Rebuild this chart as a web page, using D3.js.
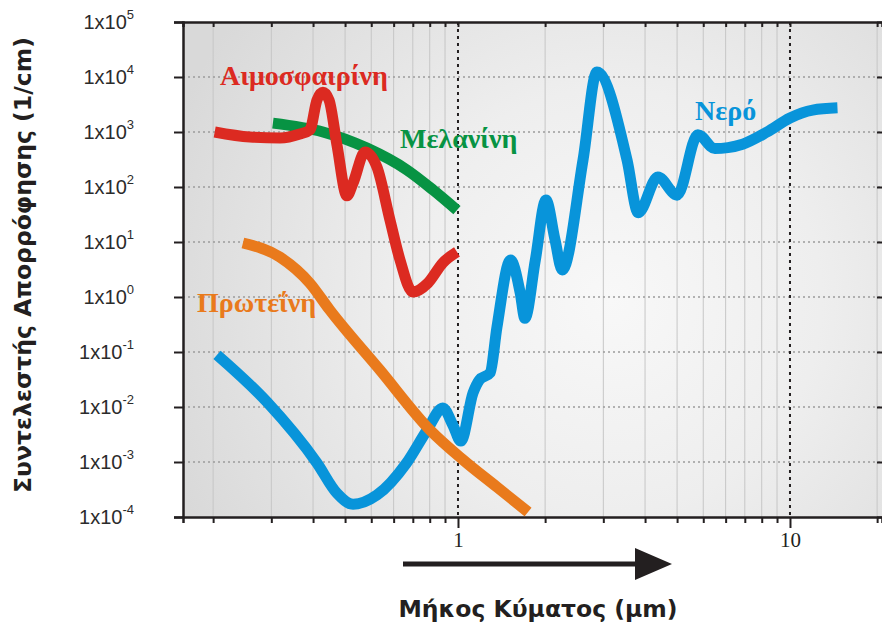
<!DOCTYPE html>
<html><head><meta charset="utf-8">
<script src="https://cdn.jsdelivr.net/npm/d3@7"></script>
<style>body{margin:0;background:#fff}svg{display:block}</style>
</head><body><svg id="chart" width="882" height="627"></svg>
<script>
// ---------------- DATA ----------------
const yTickValues = [1e-4, 1e-3, 1e-2, 1e-1, 1e0, 1e1, 1e2, 1e3, 1e4, 1e5];
const yTickExponents = ["-4", "-3", "-2", "-1", "0", "1", "2", "3", "4", "5"];
const xMajorTicks = [1, 10];
const xMajorLabels = ["1", "10"];
const xMinorGrid = [0.183, 0.274, 0.366, 0.457, 0.548, 0.640, 0.731, 0.822, 0.914,
                    1.83, 2.74, 3.66, 4.57, 5.48, 6.40, 7.31, 8.22, 9.14, 18.3];

const seriesNames = ["Νερό", "Μελανίνη", "Αιμοσφαιρίνη", "Πρωτεΐνη"];

const waterWl  = [0.188, 0.266, 0.376, 0.432, 0.483, 0.57, 0.70, 0.807, 0.90, 0.965, 1.02, 1.11, 1.16, 1.25, 1.31, 1.44, 1.54, 1.59, 1.71, 1.84, 1.96, 2.06, 2.38, 2.62, 3.23, 3.49, 4.0, 4.57, 5.28, 5.94, 6.5, 7.2, 8.53, 10, 11.7, 13.9];
const waterAbs = [0.089, 0.0123, 0.00096, 0.00027, 0.00017, 0.00025, 0.00096, 0.0038, 0.0096, 0.0047, 0.0024, 0.018, 0.031, 0.042, 0.28, 4.7, 1.18, 0.41, 4.7, 58, 11, 3.1, 310, 12300, 310, 34, 152, 71, 890, 500, 520, 600, 1000, 1800, 2500, 2750];

const melaninWl  = [0.277, 0.392, 0.532, 0.702, 0.84, 0.993];
const melaninAbs = [1450, 1000, 510, 204, 89, 38];

const hemoWl  = [0.185, 0.236, 0.291, 0.334, 0.358, 0.376, 0.392, 0.409, 0.432, 0.463, 0.483, 0.525, 0.570, 0.624, 0.669, 0.731, 0.812, 0.901, 0.993];
const hemoAbs = [1000, 810, 780, 920, 1090, 3800, 5300, 3800, 580, 69, 118, 435, 230, 25, 4.7, 1.23, 1.8, 4.2, 6.6];

const proteinWl  = [0.225, 0.291, 0.358, 0.411, 0.582, 0.824, 1.035, 1.31, 1.626];
const proteinAbs = [9.6, 5.3, 1.78, 0.58, 0.047, 0.0038, 0.0011, 0.00035, 0.000123];

const seriesColors = ["#0894da", "#079343", "#dc2a21", "#e97a1c"];

// ---------------- LAYOUT ----------------
const plot = {left: 183, top: 22, right: 882, bottom: 517};
const ink = "#231f20";

const svg = d3.select("#chart");

const x = d3.scaleLog().domain([0.1485, 18.93]).range([plot.left, plot.right]);
const y = d3.scaleLog().domain([1e-4, 1e5]).range([plot.bottom, plot.top]);

// background gradient
const defs = svg.append("defs");
const grad = defs.append("radialGradient").attr("id", "bg")
  .attr("gradientUnits", "userSpaceOnUse")
  .attr("cx", 610).attr("cy", 300).attr("r", 470);
grad.append("stop").attr("offset", "0").attr("stop-color", "#f8f8f8");
grad.append("stop").attr("offset", "0.45").attr("stop-color", "#eeeeee");
grad.append("stop").attr("offset", "1").attr("stop-color", "#d9d9d9");

svg.append("rect").attr("x", plot.left).attr("y", plot.top)
  .attr("width", plot.right - plot.left).attr("height", plot.bottom - plot.top)
  .attr("fill", "url(#bg)");

// minor vertical grid
svg.append("g").selectAll("line").data(xMinorGrid).join("line")
  .attr("x1", d => x(d)).attr("x2", d => x(d))
  .attr("y1", plot.top).attr("y2", plot.bottom)
  .attr("stroke", "#c6c6c6").attr("stroke-width", 1);

// horizontal dotted grid
svg.append("g").selectAll("line").data(yTickValues.slice(1, -1)).join("line")
  .attr("x1", plot.left).attr("x2", plot.right)
  .attr("y1", d => y(d)).attr("y2", d => y(d))
  .attr("stroke", "#9c9c9c").attr("stroke-width", 1.3).attr("stroke-dasharray", "2,3");

// major dotted verticals
svg.append("g").selectAll("line").data(xMajorTicks).join("line")
  .attr("x1", d => x(d)).attr("x2", d => x(d))
  .attr("y1", plot.top).attr("y2", plot.bottom)
  .attr("stroke", ink).attr("stroke-width", 2).attr("stroke-dasharray", "3,4");

// axes (D3 axes)
const yAxis = d3.axisLeft(y).tickValues(yTickValues).tickSize(9).tickFormat("");
svg.append("g").attr("transform", `translate(${plot.left},0)`).call(yAxis)
  .call(g => g.select(".domain").attr("stroke", ink).attr("stroke-width", 2.5))
  .call(g => g.selectAll(".tick line").attr("stroke", ink).attr("stroke-width", 2));

const yAxisR = d3.axisLeft(y).tickValues(yTickValues).tickSize(5).tickFormat("");
svg.append("g").attr("transform", `translate(${plot.right},0)`).call(yAxisR)
  .call(g => g.select(".domain").remove())
  .call(g => g.selectAll(".tick line").attr("stroke", ink).attr("stroke-width", 2));

const xAxisBottomMinor = d3.axisBottom(x).tickValues(xMinorGrid).tickSize(6).tickFormat("");
svg.append("g").attr("transform", `translate(0,${plot.bottom})`).call(xAxisBottomMinor)
  .call(g => g.select(".domain").attr("stroke", ink).attr("stroke-width", 2.5))
  .call(g => g.selectAll(".tick line").attr("stroke", ink).attr("stroke-width", 2));

const xAxisBottomMajor = d3.axisBottom(x).tickValues(xMajorTicks).tickSize(11)
  .tickFormat((d, i) => xMajorLabels[i]);
svg.append("g").attr("transform", `translate(0,${plot.bottom})`).call(xAxisBottomMajor)
  .call(g => g.select(".domain").remove())
  .call(g => g.selectAll(".tick line").attr("stroke", ink).attr("stroke-width", 2))
  .call(g => g.selectAll(".tick text").attr("fill", ink)
      .attr("font-family", "'Liberation Serif', 'Times New Roman', serif")
      .attr("font-size", 21).attr("dy", "0.9em").attr("y", 11));

const xAxisTop = d3.axisTop(x).tickValues(xMinorGrid.concat(xMajorTicks)).tickSize(-5).tickFormat("");
svg.append("g").attr("transform", `translate(0,${plot.top})`).call(xAxisTop)
  .call(g => g.select(".domain").attr("stroke", ink).attr("stroke-width", 2.5))
  .call(g => g.selectAll(".tick line").attr("stroke", ink).attr("stroke-width", 2));

// y tick labels with superscript
const yl = svg.append("g").selectAll("text").data(yTickValues).join("text")
  .attr("x", 134).attr("y", d => y(d) + 7)
  .attr("text-anchor", "end")
  .attr("font-family", "'Liberation Sans', Arial, sans-serif")
  .attr("font-size", 20).attr("fill", "#2b2b2b");
yl.append("tspan").text("1x10");
yl.append("tspan").attr("font-size", 13).attr("dy", -10)
  .text((d, i) => yTickExponents[i]);

// ---------------- CURVES ----------------
const lineGen = d3.line().x(d => x(d[0])).y(d => y(d[1])).curve(d3.curveMonotoneX);
const seriesData = [
  d3.zip(waterWl, waterAbs),
  d3.zip(melaninWl, melaninAbs),
  d3.zip(hemoWl, hemoAbs),
  d3.zip(proteinWl, proteinAbs)
];
svg.append("g").selectAll("path").data(seriesData).join("path")
  .attr("d", lineGen)
  .attr("fill", "none")
  .attr("stroke", (d, i) => seriesColors[i])
  .attr("stroke-width", 11)
  .attr("stroke-linejoin", "round")
  .attr("stroke-linecap", "butt");

// series labels
const labelPos = [[695, 120], [400, 148], [220, 85], [197, 312]];
svg.append("g").selectAll("text").data(seriesNames).join("text")
  .attr("x", (d, i) => labelPos[i][0]).attr("y", (d, i) => labelPos[i][1])
  .attr("font-family", "'Liberation Serif', 'Times New Roman', serif")
  .attr("font-weight", "bold").attr("font-size", 28)
  .attr("fill", (d, i) => seriesColors[i])
  .text(d => d);

// arrow
svg.append("line").attr("x1", 403).attr("x2", 640).attr("y1", 564).attr("y2", 564)
  .attr("stroke", ink).attr("stroke-width", 5);
svg.append("path").attr("d", "M635,548 L672,564 L635,580 Z").attr("fill", ink);

// axis titles
svg.append("text").attr("x", 538).attr("y", 617).attr("text-anchor", "middle")
  .attr("font-family", "'DejaVu Sans', Verdana, sans-serif").attr("font-weight", "bold")
  .attr("font-size", 23.5).attr("fill", ink)
  .text("Μήκος Κύματος (μm)");

svg.append("text").attr("transform", "translate(31,265) rotate(-90)")
  .attr("text-anchor", "middle")
  .attr("font-family", "'DejaVu Sans', Verdana, sans-serif").attr("font-weight", "bold")
  .attr("font-size", 23.5).attr("fill", ink)
  .text("Συντελεστής Απορρόφησης (1/cm)");
</script></body></html>
